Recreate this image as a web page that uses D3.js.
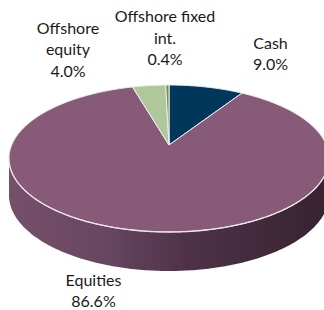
<!DOCTYPE html>
<html><head><meta charset="utf-8">
<script src="https://cdn.jsdelivr.net/npm/d3@7"></script>
<style>html,body{margin:0;padding:0;background:#fff;}svg{display:block;}</style>
</head><body><div id="chart"></div>
<script>
// ---- data ----
const categories = ["Cash", "Equities", "Offshore equity", "Offshore fixed int."];
const values = [9.0, 86.6, 4.0, 0.4];
const labelLines = [["Cash", "9.0%"], ["Equities", "86.6%"], ["Offshore", "equity", "4.0%"], ["Offshore fixed", "int.", "0.4%"]];
const colors = ["#00375A", "#875A77", "#AFC79B", "#6A9A3C"];

// ---- layout ----
const W = 324, H = 310;
const geo = {cx: 169, cy: 145, A: 157.3, B: 71, k: 0.1837, depth: 36};
const labelPos = [[270.5, 48.5], [93.5, 285.5], [68, 33.5], [165, 22]];
const lineH = 21.5;

const svg = d3.select("#chart").append("svg").attr("width", W).attr("height", H);

function proj(phi, r) {
  r = r === undefined ? 1 : r;
  const u = r * Math.sin(phi), v = r * Math.cos(phi);
  const d = 1 + geo.k * v;
  return [geo.cx + geo.A * u / d, geo.cy - geo.B * v / d];
}
function projBottom(phi) {
  const p = proj(phi);
  return [p[0], p[1] + geo.depth - 3 * Math.cos(phi)];
}
const line = d3.line();

const pie = d3.pie().sort(null).startAngle(0).endAngle(2 * Math.PI);
const arcs = pie(values);

// side gradient
const defs = svg.append("defs");
const grad = defs.append("linearGradient").attr("id", "side")
  .attr("gradientUnits", "userSpaceOnUse")
  .attr("x1", geo.cx - 160).attr("x2", geo.cx + 160).attr("y1", 0).attr("y2", 0);
[[0, "#76506B"], [0.3, "#684660"], [0.55, "#4F3248"], [0.8, "#41293A"], [1, "#372230"]]
  .forEach(s => grad.append("stop").attr("offset", s[0]).attr("stop-color", s[1]));

// side (front half)
const phiR = Math.acos(-geo.k), phiL = 2 * Math.PI - phiR;
const steps = 200;
const topPts = d3.range(steps + 1).map(i => proj(phiR + (phiL - phiR) * i / steps));
const botPts = d3.range(steps + 1).map(i => projBottom(phiL - (phiL - phiR) * i / steps));
svg.append("path").attr("d", line(topPts.concat(botPts)) + "Z").attr("fill", "url(#side)");

// top face slices
function slicePath(a) {
  const n = Math.max(2, Math.ceil((a.endAngle - a.startAngle) / 0.01));
  const pts = [proj(0, 0)];
  for (let i = 0; i <= n; i++) pts.push(proj(a.startAngle + (a.endAngle - a.startAngle) * i / n));
  return line(pts) + "Z";
}
svg.append("g").selectAll("path").data(arcs).join("path")
  .attr("d", slicePath)
  .attr("fill", (d, i) => colors[i])
  .attr("stroke", "#F2EEF0").attr("stroke-width", 1).attr("stroke-linejoin", "round");

// highlight along front rim
svg.append("path").attr("d", line(topPts)).attr("fill", "none")
  .attr("stroke", "#EDE4EA").attr("stroke-width", 1.3);

// labels
const lg = svg.append("g").attr("font-family", "Lato, 'Open Sans', sans-serif")
  .attr("font-size", 16).attr("fill", "#1a1a1a").attr("text-anchor", "middle");
labelLines.forEach((lines, i) => {
  const t = lg.append("text").attr("x", labelPos[i][0]).attr("y", labelPos[i][1]);
  lines.forEach((s, j) => t.append("tspan").attr("x", labelPos[i][0]).attr("y", labelPos[i][1] + j * lineH).text(s));
});
</script></body></html>
